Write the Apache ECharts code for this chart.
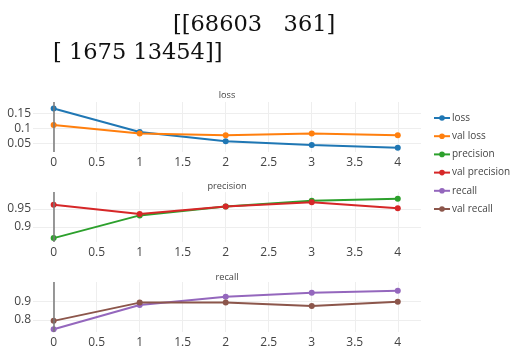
<!DOCTYPE html>
<html>
<head>
<meta charset="utf-8">
<script src="https://cdn.jsdelivr.net/npm/echarts@6/dist/echarts.min.js"></script>
<style>
html,body{margin:0;padding:0;background:#fff;}
#chart{width:511px;height:349px;}
</style>
</head>
<body>
<div id="chart"></div>
<script>
// ---- data ----
var epochs = [0, 1, 2, 3, 4];
var loss = [0.167, 0.089, 0.058, 0.045, 0.036];
var valLoss = [0.112, 0.084, 0.078, 0.084, 0.078];
var precision = [0.868, 0.932, 0.957, 0.973, 0.979];
var valPrecision = [0.962, 0.936, 0.957, 0.969, 0.952];
var recall = [0.749, 0.882, 0.927, 0.949, 0.960];
var valRecall = [0.795, 0.895, 0.895, 0.877, 0.900];

var xTicks = [0, 0.5, 1, 1.5, 2, 2.5, 3, 3.5, 4];
var lossTicks = [0.05, 0.1, 0.15];
var precTicks = [0.9, 0.95];
var recTicks = [0.8, 0.9];

var matrixLine1 = '[[68603   361]';
var matrixLine2 = '[ 1675 13454]]';

var panelTitles = ['loss', 'precision', 'recall'];
var seriesNames = ['loss', 'val loss', 'precision', 'val precision', 'recall', 'val recall'];
var colors = ['#1f77b4', '#ff7f0e', '#2ca02c', '#d62728', '#9467bd', '#8c564b'];

// ---- chart ----
var chart = echarts.init(document.getElementById('chart'), null, {renderer: 'canvas'});
var FONT = '"Open Sans", sans-serif';
var gridTops = [102, 192, 282];
var yRanges = [[0.022, 0.189], [0.857, 0.998], [0.734, 1.008]];
var yTickSets = [lossTicks, precTicks, recTicks];

function fmt(v) { return String(parseFloat((+v).toFixed(3))); }

var grids = [], xAxes = [], yAxes = [];
for (var i = 0; i < 3; i++) {
  grids.push({left: 33, right: 90, top: gridTops[i], height: 50});
  xAxes.push({
    type: 'value', gridIndex: i, min: -0.24, max: 4.27,
    axisLine: {show: false},
    axisTick: {show: false, customValues: xTicks},
    axisLabel: {customValues: xTicks, formatter: fmt, color: '#444', fontSize: 12, fontFamily: FONT, margin: 5},
    splitLine: {show: true, lineStyle: {color: '#eeeeee', width: 1}}
  });
  yAxes.push({
    type: 'value', gridIndex: i, min: yRanges[i][0], max: yRanges[i][1],
    axisLine: {show: false},
    axisTick: {show: false, customValues: yTickSets[i]},
    axisLabel: {customValues: yTickSets[i], formatter: fmt, color: '#444', fontSize: 12, fontFamily: FONT, margin: 2},
    splitLine: {show: true, lineStyle: {color: '#eeeeee', width: 1}}
  });
}

var values = [loss, valLoss, precision, valPrecision, recall, valRecall];
var series = values.map(function (arr, k) {
  var g = Math.floor(k / 2);
  var s = {
    name: seriesNames[k], type: 'line',
    xAxisIndex: g, yAxisIndex: g,
    data: epochs.map(function (e, j) { return [e, arr[j]]; }),
    symbol: 'circle', symbolSize: 6, showSymbol: true,
    lineStyle: {width: 2, color: colors[k]},
    itemStyle: {color: colors[k]},
    animation: false, z: 3
  };
  if (k % 2 === 0) {
    s.markLine = {
      silent: true, symbol: 'none', animation: false,
      label: {show: false},
      lineStyle: {color: '#777', width: 1.5, type: 'solid'},
      data: [{xAxis: 0}]
    };
  }
  return s;
});

var graphics = [];
var titleY = [95, 186, 277];
for (var t = 0; t < 3; t++) {
  graphics.push({type: 'text', x: 227, y: titleY[t], silent: true,
    style: {text: panelTitles[t], fill: '#444', font: '9.2px ' + FONT, align: 'center', verticalAlign: 'middle'}});
}
graphics.push({type: 'text', x: 173, y: 25, silent: true,
  style: {text: matrixLine1, fill: '#111', font: '22.5px "DejaVu Serif", serif', align: 'left', verticalAlign: 'middle'}});
graphics.push({type: 'text', x: 53, y: 53, silent: true,
  style: {text: matrixLine2, fill: '#111', font: '22.5px "DejaVu Serif", serif', align: 'left', verticalAlign: 'middle'}});

chart.setOption({
  animation: false,
  color: colors,
  grid: grids,
  xAxis: xAxes,
  yAxis: yAxes,
  legend: {
    orient: 'vertical', left: 428, top: 107,
    itemWidth: 16, itemHeight: 7, itemGap: 6.2,
    data: seriesNames,
    textStyle: {color: '#444', fontSize: 10, fontFamily: FONT, lineHeight: 12, padding: [0, 0, 0, -3]},
    selectedMode: false
  },
  graphic: graphics,
  series: series
});
</script>
</body>
</html>
